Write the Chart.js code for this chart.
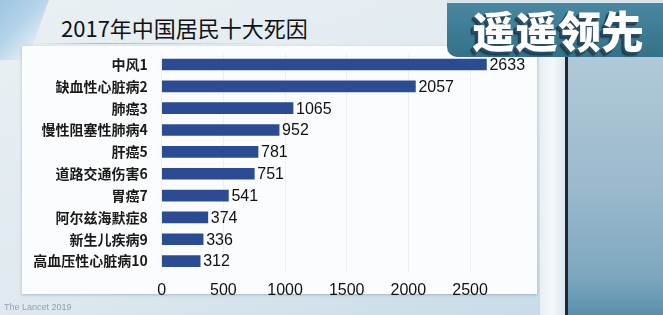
<!DOCTYPE html>
<html>
<head>
<meta charset="utf-8">
<script src="https://cdn.jsdelivr.net/npm/chart.js@4.4.1/dist/chart.umd.min.js"></script>
<style>
  html, body { margin: 0; padding: 0; }
  body {
    width: 663px; height: 315px; overflow: hidden; position: relative;
    background: linear-gradient(160deg, #e9f0f4 0%, #dfe9ef 55%, #c3d8e6 100%);
    font-family: "Noto Sans CJK SC", "Noto Sans", sans-serif;
  }
  .streak {
    position: absolute; left: -20px; top: -10px; width: 60px; height: 70px;
    background: linear-gradient(120deg, #7fb2da 0%, #a9cde8 60%, rgba(200,225,240,0) 100%);
    transform: skewX(-20deg); opacity: .8;
  }
  .title {
    position: absolute; left: 61px; top: 11px; font-size: 22px; color: #111;
    white-space: nowrap;
  }
  .underline {
    position: absolute; left: 30px; top: 43px; width: 240px; height: 1px;
    background: linear-gradient(90deg, rgba(140,150,160,0), rgba(140,150,160,.6) 30%, rgba(140,150,160,0));
  }
  .panel {
    position: absolute; left: 22px; top: 46px; width: 515px; height: 248px;
    background: #fbfcfd; box-shadow: 0 1px 3px rgba(80,110,130,.35);
  }
  .gap {
    position: absolute; left: 540px; top: 55px; width: 25px; height: 260px;
    background: linear-gradient(90deg, #e8eff3, #f4f8fa 50%, #dce8ef);
  }
  .divider {
    position: absolute; left: 565px; top: 57px; width: 3px; height: 258px; background: #1e2a33;
  }
  .side {
    position: absolute; left: 568px; top: 57px; width: 95px; height: 258px;
    background: linear-gradient(180deg, #b0c9d8 0%, #9bbacd 50%, #7ea7bf 85%, #5a8fab 100%);
  }
  .badge {
    position: absolute; left: 447px; top: 0; width: 216px; height: 57px;
    background: linear-gradient(180deg, #4a88a1 0%, #3c7a93 60%, #347289 100%);
    border-bottom-left-radius: 10px; border-top: 3px solid #d7e4ea; box-sizing: border-box;
  }
  .badge span {
    position: absolute; left: 25px; top: 1px; font-size: 43px; font-weight: 900; color: #fff;
    white-space: nowrap; line-height: 50px;
    text-shadow: -1px 1px 0 #2a4d63, -2px 2px 0 #2a4d63, -3px 3px 0 #1d3a4d, -3px 4px 2px rgba(0,0,0,.4);
  }
  .source {
    position: absolute; left: 4px; top: 302px; font-size: 9px; color: #8ea2b2;
    font-family: "Liberation Sans", sans-serif; white-space: nowrap;
  }
  #chart { position: absolute; left: 0; top: 0; }
</style>
</head>
<body>
<div class="streak"></div>
<div class="title">2017年中国居民十大死因</div>
<div class="underline"></div>
<div class="panel"></div>
<div class="gap"></div>
<div class="divider"></div>
<div class="side"></div>
<canvas id="chart" width="663" height="315"></canvas>
<div class="badge"><span>遥遥领先</span></div>
<div class="source">The Lancet 2019</div>

<script>
// ===============================
//   Dados
// ===============================
const causas = ["中风1", "缺血性心脏病2", "肺癌3", "慢性阻塞性肺病4", "肝癌5",
                "道路交通伤害6", "胃癌7", "阿尔兹海默症8", "新生儿疾病9", "高血压性心脏病10"];
const mortes = [2633, 2057, 1065, 952, 781, 751, 541, 374, 336, 312];
const eixoMax = 3000;   // escala vai além do último tick
const ultimoTick = 2500;
const passo = 500;

// rótulos de valor na ponta das barras
const rotulosValor = {
  id: "rotulosValor",
  afterDatasetsDraw(chart) {
    const ctx = chart.ctx;
    const meta = chart.getDatasetMeta(0);
    ctx.save();
    ctx.font = "16px 'Liberation Sans', Arial, sans-serif";
    ctx.fillStyle = "#111";
    ctx.textBaseline = "middle";
    meta.data.forEach((bar, i) => {
      ctx.fillText(String(mortes[i]), bar.x + 3, bar.y + 1);
    });
    ctx.restore();
  }
};

new Chart(document.getElementById("chart"), {
  type: "bar",
  data: {
    labels: causas,
    datasets: [{
      data: mortes,
      backgroundColor: "#2b4c93",
      barThickness: 11
    }]
  },
  options: {
    indexAxis: "y",
    responsive: false,
    animation: false,
    layout: { padding: { left: 0, top: 53.6, right: 131.3, bottom: 0 } },
    plugins: { legend: { display: false }, tooltip: { enabled: false } },
    scales: {
      x: {
        min: 0,
        max: eixoMax,
        ticks: {
          stepSize: passo,
          padding: 9,
          color: "#111",
          font: { family: "'Liberation Sans', Arial, sans-serif", size: 16 },
          callback: (v) => String(v)
        },
        afterBuildTicks: (scale) => {
          scale.ticks = scale.ticks.filter(t => t.value <= ultimoTick);
        },
        afterFit: (scale) => { scale.height = 43; },
        grid: { color: "rgba(0,0,0,0.05)", drawTicks: false },
        border: { display: false }
      },
      y: {
        ticks: {
          padding: 6,
          color: "#1a1a1a",
          font: { family: "'Noto Sans CJK SC', sans-serif", size: 14, weight: "bold" }
        },
        afterFit: (scale) => { scale.width = 161.7; },
        grid: { display: false },
        border: { display: false }
      }
    }
  },
  plugins: [rotulosValor]
});
</script>
</body>
</html>
